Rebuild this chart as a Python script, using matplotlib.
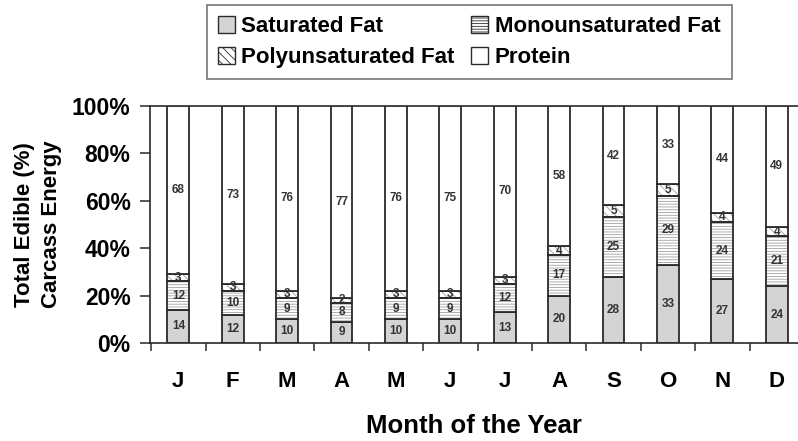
import matplotlib
matplotlib.use("Agg")
import matplotlib.pyplot as plt
from matplotlib.patches import Patch
import numpy as np

plt.rcParams['font.family'] = ['Liberation Sans', 'DejaVu Sans']
plt.rcParams['hatch.linewidth'] = 0.6

months = ["J", "F", "M", "A", "M", "J", "J", "A", "S", "O", "N", "D"]
saturated = [14, 12, 10, 9, 10, 10, 13, 20, 28, 33, 27, 24]
monounsat = [12, 10, 9, 8, 9, 9, 12, 17, 25, 29, 24, 21]
polyunsat = [3, 3, 3, 2, 3, 3, 3, 4, 5, 5, 4, 4]
protein = [68, 73, 76, 77, 76, 75, 70, 58, 42, 33, 44, 49]

sat_color = "#d4d4d4"
edge = "#2a2a2a"
hatch_gray = "#a0a0a0"
label_color = "#333333"

fig = plt.figure(figsize=(7.98, 4.41), dpi=100)
ax = fig.add_axes([0.188, 0.222, 0.812, 0.538])

x = np.arange(len(months))
w = 0.4
sat = np.array(saturated, float)
mono = np.array(monounsat, float)
poly = np.array(polyunsat, float)
prot = np.array(protein, float)

b1 = sat
b2 = sat + mono
b3 = sat + mono + poly
prot_h = 100 - b3  # protein fills the rest of each bar to 100%

lw = 1.3
ax.bar(x, sat, w, color=sat_color, edgecolor=edge, linewidth=lw, zorder=2)
ax.bar(x, mono, w, bottom=b1, color="white", edgecolor=hatch_gray, hatch="------",
       linewidth=0, zorder=2)
ax.bar(x, mono, w, bottom=b1, fill=False, edgecolor=edge, linewidth=lw, zorder=3)
ax.bar(x, poly, w, bottom=b2, color="white", edgecolor=hatch_gray, hatch="\\\\\\\\",
       linewidth=0, zorder=2)
ax.bar(x, poly, w, bottom=b2, fill=False, edgecolor=edge, linewidth=lw, zorder=3)
ax.bar(x, prot_h, w, bottom=b3, color="white", edgecolor=edge, linewidth=lw, zorder=3)

for i in range(len(months)):
    kw = dict(ha="center", va="center", fontsize=8.5, fontweight="bold",
              color=label_color, zorder=5)
    ax.text(x[i], sat[i] / 2, f"{saturated[i]}", **kw)
    ax.text(x[i], b1[i] + mono[i] / 2, f"{monounsat[i]}", **kw)
    ax.text(x[i], b2[i] + poly[i] / 2, f"{polyunsat[i]}", **kw)
    ax.text(x[i], b3[i] + prot_h[i] / 2, f"{protein[i]}", **kw)

ax.set_xlim(-0.52, 11.39)
ax.set_ylim(0, 100)
ax.set_yticks([0, 20, 40, 60, 80, 100])
ax.set_yticklabels([f"{v}%" for v in [0, 20, 40, 60, 80, 100]],
                   fontsize=16.5, fontweight="bold")
ax.set_xticks(x)
ax.set_xticklabels(months, fontsize=16, fontweight="bold")
ax.tick_params(axis="x", length=0, pad=20)
ax.set_xticks(np.arange(-0.5, 11.5, 1.0), minor=True)
ax.tick_params(axis="x", which="minor", length=6, width=1.1, color=edge, direction="out")
ax.tick_params(axis="y", length=7, width=1.1, color=edge, direction="out", pad=7)

for s in ["left", "bottom", "top"]:
    ax.spines[s].set_color(edge)
    ax.spines[s].set_linewidth(1.2)
ax.spines["right"].set_visible(False)

ax.set_xlabel("Month of the Year", fontsize=18.5, fontweight="bold", labelpad=16)
ax.set_ylabel("Total Edible (%)\nCarcass Energy", fontsize=16, fontweight="bold",
              linespacing=1.35)
ax.yaxis.set_label_coords(-0.136, 0.5)

handles = [
    Patch(facecolor=sat_color, edgecolor=edge, label="Saturated Fat"),
    Patch(facecolor="white", edgecolor=edge, hatch="\\\\\\\\", label="Polyunsaturated Fat"),
    Patch(facecolor="white", edgecolor=edge, hatch="------", label="Monounsaturated Fat"),
    Patch(facecolor="white", edgecolor=edge, label="Protein"),
]
leg = fig.legend(handles=handles, ncol=2, loc="upper left",
                 bbox_to_anchor=(207 / 798, 1 - 5 / 441),
                 prop={"weight": "bold", "size": 16},
                 frameon=True, fancybox=False, edgecolor="#555555",
                 handlelength=0.75, handleheight=0.75, handletextpad=0.3,
                 columnspacing=0.75, labelspacing=0.45, borderpad=0.5,
                 borderaxespad=0)
leg.get_frame().set_linewidth(1.2)

fig.savefig("out.png", dpi=100)
